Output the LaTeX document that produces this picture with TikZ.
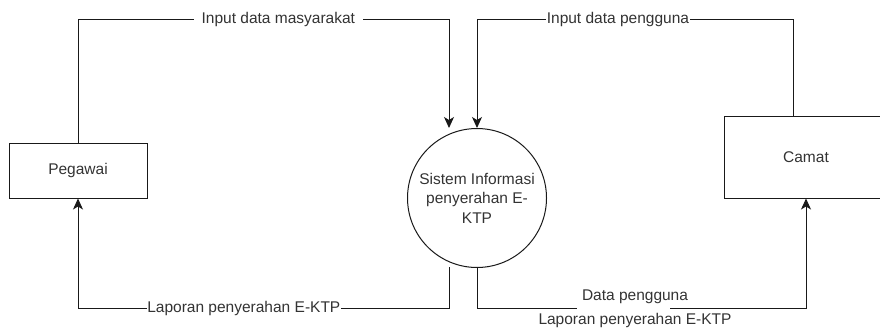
\documentclass[tikz,border=0pt]{standalone}
\usepackage{fontspec}
\setmainfont{Liberation Sans}
\usetikzlibrary{arrows.meta}
\begin{document}
\begin{tikzpicture}[x=1pt,y=-1pt,
  every node/.style={font=\fontsize{15.5}{18}\selectfont, text=black!80},
  entity/.style={draw=black!90, line width=1pt, minimum width=164pt, minimum height=82pt, inner sep=0pt},
  process/.style={draw=black!90, line width=1pt, circle, minimum size=139pt, inner sep=0pt, align=center, font=\fontsize{15.5}{19.5}\selectfont},
  flow/.style={draw=black!90, line width=1pt, -{Stealth[length=11pt,width=10pt,inset=3pt]}},
  flowlabel/.style={fill=white, inner sep=0.5pt}
]
\clip (0,0) rectangle (880,327);
\useasboundingbox (0,0) rectangle (880,327);

% external entities and the process
\node[entity, minimum width=138pt, minimum height=55pt] (peg) at (78,170.5) {Pegawai};
\node[entity] (cam) at (806,157) {Camat};
\node[process] (sis) at (477,198) {Sistem Informasi\\penyerahan E-\\KTP};

% bend points
\coordinate (ct) at (793,116);
\coordinate (p1) at (78,19);
\coordinate (p2) at (449,19);
\coordinate (c1) at (793,19);
\coordinate (c2) at (477,19);
\coordinate (bs) at (449,267);
\coordinate (b1) at (449,308);
\coordinate (b2) at (78,308);
\coordinate (b3) at (477,308);
\coordinate (b4) at (806,308);

% flows
\draw[flow] (peg.north) -- (p1) -- node[flowlabel, inner xsep=8pt, pos=0.54] {Input data masyarakat} (p2) -- (p2 |- sis.north);
\draw[flow] (ct) -- (c1) -- node[flowlabel, pos=0.554] {Input data pengguna} (c2) -- (sis.north);
\draw[flow] (bs) -- (b1) -- node[flowlabel, pos=0.553] {Laporan penyerahan E-KTP} (b2) -- (peg.south);
\draw[flow] (sis.south) -- (b3) -- (b4) -- (b4 |- cam.south);

% two-line label of the lower right flow
\fill[white] (577,304) rectangle (670,312);
\node[inner sep=0pt] (lbl1) at (635,297) {Data pengguna};
\node[inner sep=0pt] (lbl2) at (635,320) {Laporan penyerahan E-KTP};
\end{tikzpicture}
\end{document}
